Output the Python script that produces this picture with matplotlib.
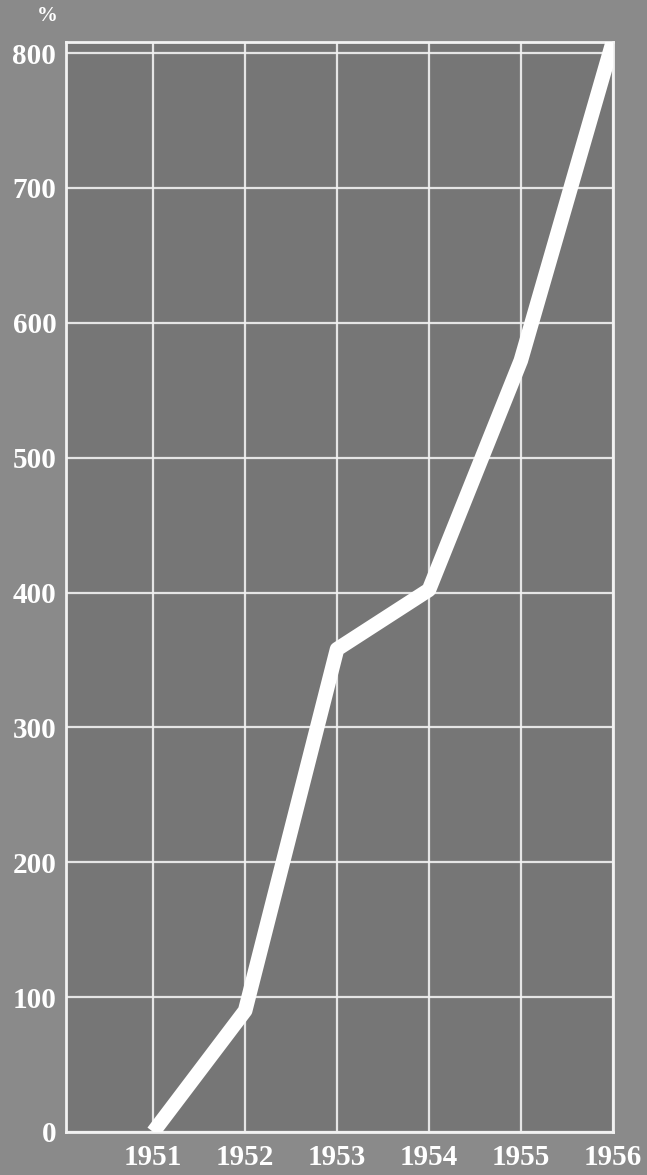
import matplotlib
matplotlib.use('Agg')
import matplotlib.pyplot as plt

years = [1951, 1952, 1953, 1954, 1955, 1956]
values = [0, 90, 358, 402, 572, 808]
y_ticks = [0, 100, 200, 300, 400, 500, 600, 700, 800]
x_ticks = [1951, 1952, 1953, 1954, 1955, 1956]

bg = '#8a8a8a'
panel = '#767676'

fig = plt.figure(figsize=(6.47, 11.75), dpi=100)
fig.patch.set_facecolor(bg)
ax = fig.add_axes([0.102, 0.0366, 0.845, 0.9274])
ax.set_facecolor(panel)

ax.set_xlim(1950.05, 1956)
ax.set_ylim(0, 808)

ax.set_xticks(x_ticks)
ax.set_yticks(y_ticks)
ax.set_xticklabels([str(y) for y in x_ticks])
ax.set_yticklabels([str(v) for v in y_ticks])
ax.tick_params(length=0, colors='white', labelsize=21)
ax.tick_params(axis='x', pad=9)
ax.tick_params(axis='y', pad=7)
for lab in ax.get_xticklabels() + ax.get_yticklabels():
    lab.set_fontfamily('Liberation Serif')
    lab.set_fontweight('bold')

ax.grid(True, color='#f2f2f2', linewidth=1.6, alpha=0.9)
ax.set_axisbelow(True)
for side in ['left', 'bottom', 'top', 'right']:
    ax.spines[side].set_color('#f2f2f2')
    ax.spines[side].set_linewidth(2)

ax.plot(years, values, color='white', linewidth=10.5, solid_joinstyle='round',
        solid_capstyle='butt', zorder=5)

fig.text(47 / 647, 1 - 16 / 1175, '%', color='white', fontsize=15,
         fontfamily='Liberation Serif', fontweight='bold', ha='center', va='center')

fig.savefig('out.png', dpi=100, facecolor=bg)
